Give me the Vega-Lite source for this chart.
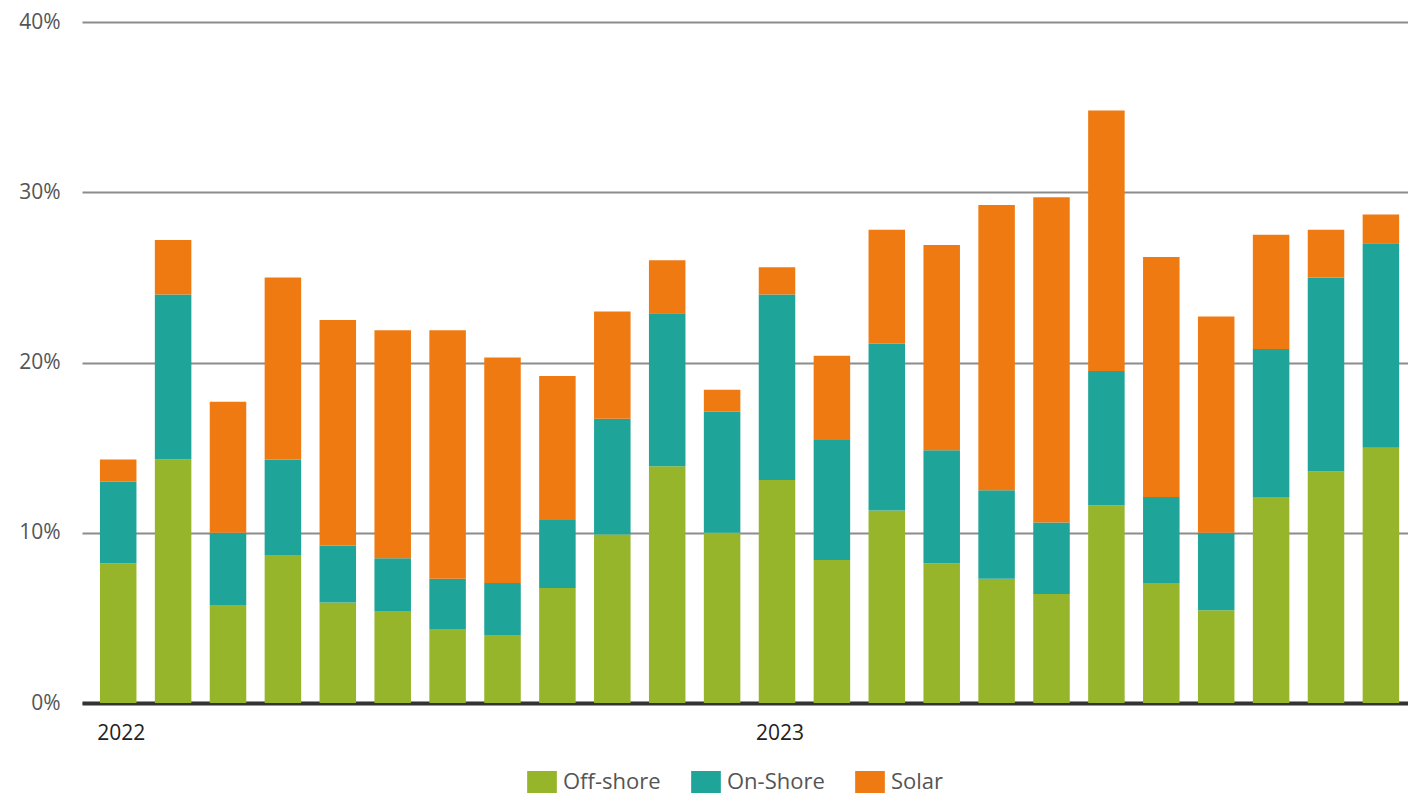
{
  "$schema": "https://vega.github.io/schema/vega-lite/v6.json",
  "autosize": {"type": "none"},
  "width": 1326,
  "height": 681,
  "padding": {"left": 82, "top": 22, "right": 0, "bottom": 94},
  "background": "white",
  "config": {
    "view": {"stroke": null},
    "font": "Open Sans"
  },
  "data": {
    "values": [
      {"month": "2022-01", "Off-shore": 8.2, "On-Shore": 4.8, "Solar": 1.3},
      {"month": "2022-02", "Off-shore": 14.3, "On-Shore": 9.7, "Solar": 3.2},
      {"month": "2022-03", "Off-shore": 5.75, "On-Shore": 4.25, "Solar": 7.7},
      {"month": "2022-04", "Off-shore": 8.7, "On-Shore": 5.6, "Solar": 10.7},
      {"month": "2022-05", "Off-shore": 5.9, "On-Shore": 3.35, "Solar": 13.25},
      {"month": "2022-06", "Off-shore": 5.4, "On-Shore": 3.1, "Solar": 13.4},
      {"month": "2022-07", "Off-shore": 4.35, "On-Shore": 2.95, "Solar": 14.6},
      {"month": "2022-08", "Off-shore": 4.0, "On-Shore": 3.05, "Solar": 13.25},
      {"month": "2022-09", "Off-shore": 6.75, "On-Shore": 4.0, "Solar": 8.45},
      {"month": "2022-10", "Off-shore": 9.9, "On-Shore": 6.8, "Solar": 6.3},
      {"month": "2022-11", "Off-shore": 13.9, "On-Shore": 9.0, "Solar": 3.1},
      {"month": "2022-12", "Off-shore": 10.0, "On-Shore": 7.1, "Solar": 1.3},
      {"month": "2023-01", "Off-shore": 13.1, "On-Shore": 10.9, "Solar": 1.6},
      {"month": "2023-02", "Off-shore": 8.4, "On-Shore": 7.05, "Solar": 4.95},
      {"month": "2023-03", "Off-shore": 11.3, "On-Shore": 9.8, "Solar": 6.7},
      {"month": "2023-04", "Off-shore": 8.2, "On-Shore": 6.65, "Solar": 12.05},
      {"month": "2023-05", "Off-shore": 7.3, "On-Shore": 5.2, "Solar": 16.75},
      {"month": "2023-06", "Off-shore": 6.4, "On-Shore": 4.2, "Solar": 19.1},
      {"month": "2023-07", "Off-shore": 11.6, "On-Shore": 7.9, "Solar": 15.3},
      {"month": "2023-08", "Off-shore": 7.05, "On-Shore": 5.05, "Solar": 14.1},
      {"month": "2023-09", "Off-shore": 5.45, "On-Shore": 4.55, "Solar": 12.7},
      {"month": "2023-10", "Off-shore": 12.1, "On-Shore": 8.7, "Solar": 6.7},
      {"month": "2023-11", "Off-shore": 13.6, "On-Shore": 11.4, "Solar": 2.8},
      {"month": "2023-12", "Off-shore": 15.0, "On-Shore": 12.0, "Solar": 1.7}
    ]
  },
  "transform": [
    {"fold": ["Off-shore", "On-Shore", "Solar"], "as": ["series", "value"]}
  ],
  "mark": {"type": "bar"},
  "encoding": {
    "x": {
      "field": "month",
      "type": "ordinal",
      "title": null,
      "scale": {"paddingInner": 0.335, "paddingOuter": 0.244, "align": 0.67},
      "axis": {
        "labelExpr": "datum.value == '2022-01' ? '2022' : (datum.value == '2023-01' ? '2023' : '')",
        "labelAngle": 0,
        "labelAlign": "left",
        "labelOffset": -21,
        "labelPadding": 19,
        "labelFontSize": 21,
        "labelColor": "#222",
        "ticks": false,
        "domainColor": "#333",
        "domainWidth": 4,
        "grid": false
      }
    },
    "y": {
      "field": "value",
      "type": "quantitative",
      "stack": "zero",
      "title": null,
      "scale": {"domain": [0, 40], "nice": false},
      "axis": {
        "values": [0, 10, 20, 30, 40],
        "labelExpr": "datum.value + '%'",
        "labelFontSize": 21,
        "labelColor": "#555",
        "labelPadding": 22,
        "ticks": false,
        "domain": false,
        "grid": true,
        "gridColor": "#8c8c8c",
        "gridWidth": 2
      }
    },
    "color": {
      "field": "series",
      "type": "nominal",
      "title": null,
      "scale": {
        "domain": ["Off-shore", "On-Shore", "Solar"],
        "range": ["#96b52b", "#1fa499", "#f07a12"]
      },
      "legend": {
        "orient": "none",
        "direction": "horizontal",
        "legendX": 449,
        "legendY": 749,
        "symbolType": "M-1.35,-1H1.35V1H-1.35Z",
        "symbolSize": 484,
        "symbolStrokeWidth": 0,
        "symbolOpacity": 1,
        "labelFontSize": 22,
        "labelColor": "#555",
        "labelOffset": 10,
        "columnPadding": 30
      }
    },
    "order": {"field": "series", "sort": "ascending"}
  }
}
